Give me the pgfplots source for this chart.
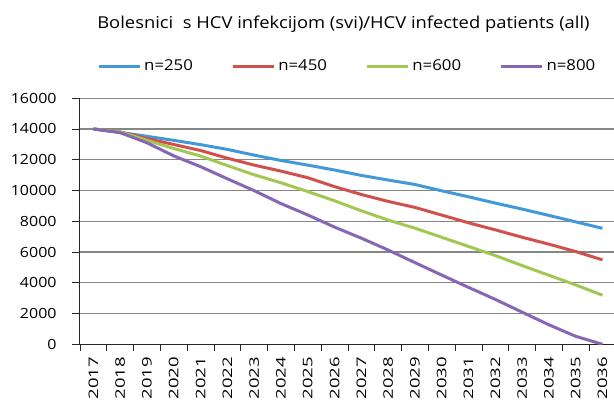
\documentclass[border=0pt]{standalone}
\usepackage{fontspec}
\setmainfont{Open Sans}[FakeStretch=1.12]
\newfontfamily\ytfont{Open Sans}[FakeStretch=1.14]
\newfontfamily\xtfont{Open Sans}[FakeStretch=1.4]
\usepackage{pgfplots}
\pgfplotsset{compat=1.18}
\definecolor{cblue}{RGB}{65,153,217}
\definecolor{cred}{RGB}{208,80,78}
\definecolor{cgreen}{RGB}{163,199,82}
\definecolor{cpurple}{RGB}{134,103,180}
\definecolor{cgrid}{RGB}{134,134,134}
\begin{document}
\fontsize{15}{18}\selectfont
\begin{tikzpicture}[x=1pt,y=1pt]
\begin{axis}[
  at={(0,0)}, anchor=south west,
  scale only axis, width=534pt, height=246.1pt,
  xmin=-0.5, xmax=19.43, ymin=0, ymax=16000,
  axis lines*=left,
  axis line style={line width=1pt, color=black!85},
  ytick={0,2000,...,16000},
  scaled y ticks=false,
  /pgf/number format/1000 sep={},
  /pgf/number format/assume math mode=true,
  ymajorgrids,
  grid style={draw=cgrid, line width=1.2pt},
  xtick={0,...,19},
  xticklabels={2017,2018,2019,2020,2021,2022,2023,2024,2025,2026,2027,2028,2029,2030,2031,2032,2033,2034,2035,2036},
  minor xtick={-0.5,0.5,...,18.5},
  tick align=outside,
  major tick length=8pt, minor tick length=6.5pt,
  major x tick style={draw=none},
  tick style={color=black!85, line width=0.8pt},
  xticklabel style={rotate=90, anchor=east, inner sep=0pt, font=\xtfont\fontsize{13.2}{16}\selectfont},
  xticklabel shift=4.4pt,
  yticklabel style={inner sep=0pt, anchor=east, font=\ytfont\fontsize{14}{16}\selectfont},
  yticklabel shift=15.3pt,
  title={Bolesnici\ \ s HCV infekcijom (svi)/HCV infected patients (all)},
  title style={at={(0.4934,1.2596)}, anchor=base, inner sep=0pt, font=\fontsize{16.4}{19}\selectfont},
  legend columns=4,
  legend style={at={(0.03184,1.1288)}, anchor=west, draw=none, fill=none, inner sep=0pt,
    nodes={inner sep=0pt},
    font=\fontsize{15}{18}\selectfont,
    /tikz/every even column/.append style={column sep=0pt},
    /tikz/every odd column/.append style={column sep=0pt}},
  legend cell align=left,
  legend image code/.code={\draw[#1, line width=3pt] (0pt,0pt) -- (41pt,0pt);},
  every axis plot/.append style={line width=3pt, line join=round},
]
\addplot[cblue] coordinates {(0,14000)(1,13780)(2,13520)(3,13260)(4,12980)(5,12670)(6,12300)(7,11950)(8,11650)(9,11330)(10,10980)(11,10680)(12,10390)(13,9980)(14,9590)(15,9180)(16,8790)(17,8380)(18,7960)(19,7540)};
\addlegendentry{\hspace{3pt}\makebox[87.1pt][l]{n=250}}
\addplot[cred] coordinates {(0,14000)(1,13800)(2,13380)(3,12990)(4,12600)(5,12100)(6,11650)(7,11260)(8,10830)(9,10250)(10,9740)(11,9290)(12,8900)(13,8400)(14,7900)(15,7440)(16,6960)(17,6510)(18,6030)(19,5490)};
\addlegendentry{\hspace{3pt}\makebox[87.1pt][l]{n=450}}
\addplot[cgreen] coordinates {(0,14000)(1,13800)(2,13260)(3,12730)(4,12240)(5,11620)(6,11020)(7,10500)(8,9930)(9,9330)(10,8680)(11,8080)(12,7550)(13,6960)(14,6360)(15,5770)(16,5120)(17,4490)(18,3860)(19,3190)};
\addlegendentry{\hspace{3pt}\makebox[87.1pt][l]{n=600}}
\addplot[cpurple] coordinates {(0,14000)(1,13760)(2,13100)(3,12250)(4,11550)(5,10760)(6,9990)(7,9150)(8,8410)(9,7620)(10,6900)(11,6130)(12,5310)(13,4500)(14,3700)(15,2920)(16,2090)(17,1270)(18,520)(19,0)};
\addlegendentry{\hspace{3pt}\makebox[60pt][l]{n=800}}
\end{axis}
\pgfresetboundingbox
\path[use as bounding box] (-80,-56.7) rectangle (534,344.3);
\end{tikzpicture}
\end{document}
